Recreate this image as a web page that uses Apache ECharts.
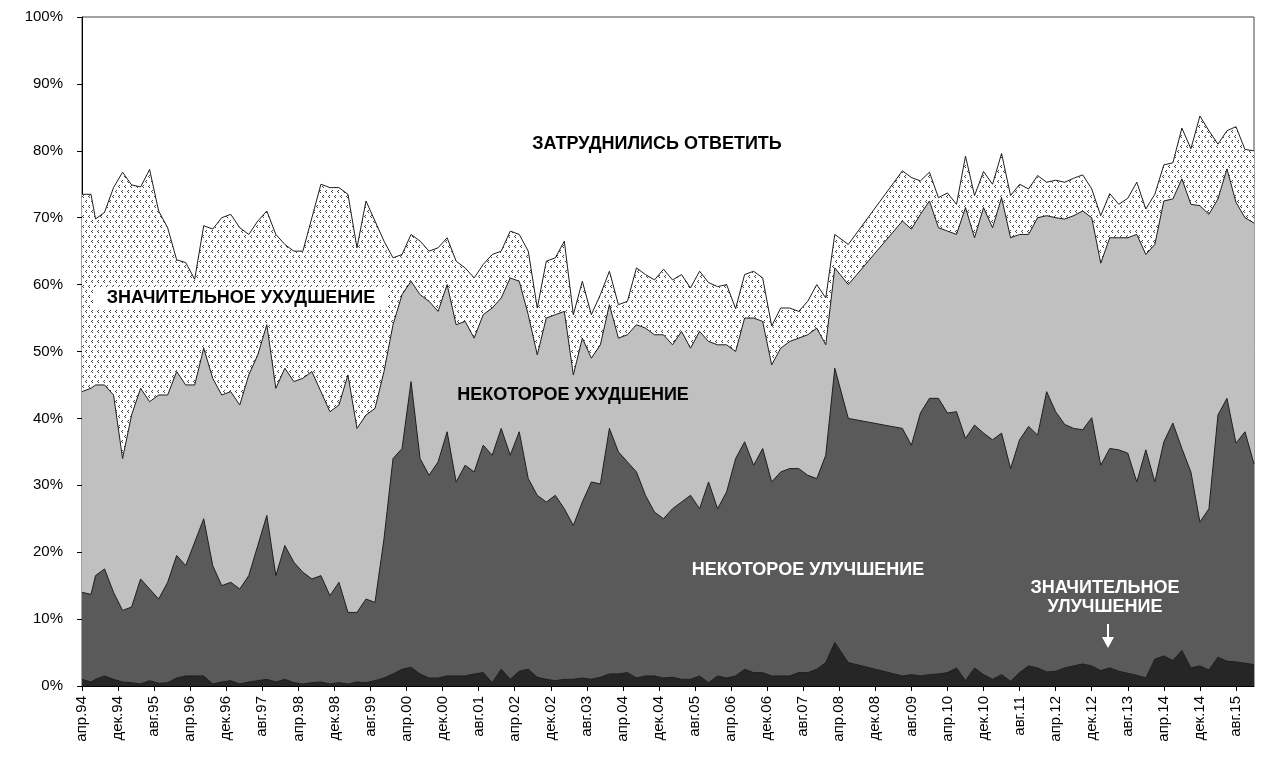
<!DOCTYPE html>
<html>
<head>
<meta charset="utf-8">
<title>Оценки изменения ситуации, 1994–2015</title>
<script src="https://cdn.jsdelivr.net/npm/echarts@6/dist/echarts.min.js"></script>
<style>
    html, body { margin: 0; padding: 0; background: #fff; }
    #chart { width: 1262px; height: 774px; }
</style>
</head>
<body>
<div id="chart"></div>
<script>
// месяц от апр.94 (0 = апр.94)
var months = [0, 2, 3, 5, 7, 9, 11, 13, 15, 17, 19, 21, 23, 25, 27, 29, 31, 33, 35, 37, 39,
    41, 43, 45, 47, 49, 51, 53, 55, 57, 59, 61, 63, 65, 67, 69, 71, 73, 75, 77, 79,
    81, 83, 85, 87, 89, 91, 93, 95, 97, 99, 101, 103, 105, 107, 109, 111, 113, 115, 117, 119,
    121, 123, 125, 127, 129, 131, 133, 135, 137, 139, 141, 143, 145, 147, 149, 151, 153, 155, 157, 159,
    161, 163, 165, 167, 170,
    182, 184, 186, 188, 190, 192, 194, 196, 198, 200, 202, 204, 206, 208, 210, 212, 214, 216, 218, 220,
    222, 224, 226, 228, 230, 232, 234, 236, 238, 240, 242, 244, 246, 248, 250, 252, 254, 256, 258, 260];

// накопленные доли, % (верхняя граница каждой области)
// до "значительного ухудшения" включительно
var upToSharpWorse = [73.5, 73.5, 69.8, 70.8, 74.5, 76.8, 74.9, 74.6, 77.2, 71, 68.5, 63.7, 63.3, 60.8, 68.8, 68.3, 70, 70.5, 68.5, 67.5, 69.5,
    71, 67.5, 66, 65, 65, 70, 75, 74.5, 74.5, 73.5, 65.5, 72.5, 69.5, 66.5, 64, 64.5, 67.5, 66.5, 65, 65.5,
    67, 63.5, 62.5, 61, 63, 64.5, 65, 68, 67.5, 65, 56.5, 63.5, 64, 66.5, 55.5, 60.5, 55.5, 58.5, 62, 57,
    57.5, 62.5, 61.5, 60.7, 62.3, 60.7, 61.5, 59.5, 62, 60.3, 59.7, 60, 56.4, 61.5, 62, 61, 53.8, 56.5, 56.5, 56,
    57.5, 60, 58, 67.5, 66,
    77, 76, 75.5, 76.8, 73, 73.7, 72, 79.2, 73.3, 76.9, 75, 79.6, 73.3, 75, 74.3, 76.3, 75.3, 75.6, 75.3, 75.9,
    76.4, 74.3, 70.3, 73.6, 72, 72.9, 75.3, 71.3, 73.5, 77.9, 78.2, 83.4, 80.3, 85.2, 83, 81, 83, 83.6, 80.2, 80];
// до "некоторого ухудшения"
var upToSomeWorse = [44, 44.5, 45, 45, 43.5, 34, 40.5, 44.5, 42.5, 43.5, 43.5, 47, 45, 45, 50.5, 46, 43.5, 44, 42, 46.5, 49.5,
    54, 44.5, 47.5, 45.5, 46, 47, 44, 41, 42, 46.5, 38.5, 40.5, 41.5, 47, 54, 58.5, 60.5, 58.5, 57.5, 56,
    60, 54, 54.5, 52, 55.5, 56.5, 58, 61, 60.5, 55.5, 49.5, 55, 55.5, 56, 46.5, 52, 49, 51, 57, 52,
    52.5, 54, 53.5, 52.5, 52.5, 51, 53, 50.5, 53, 51.5, 51, 51, 50, 55, 55, 54.5, 48, 50.5, 51.5, 52,
    52.5, 53.5, 51, 62.5, 60,
    69.5, 68.3, 70.5, 72.5, 68.5, 68, 67.5, 71.5, 67, 71.5, 68.5, 73, 67, 67.5, 67.5, 70, 70.3, 70, 69.8, 70.3,
    71, 70, 63.2, 67, 67, 67, 67.5, 64.5, 66, 72.5, 72.8, 75.8, 72, 71.8, 70.5, 72.8, 77.3, 72.3, 70, 69.2];
// до "некоторого улучшения"
var upToSomeBetter = [14, 13.7, 16.5, 17.5, 14, 11.3, 11.8, 16, 14.5, 13, 15.5, 19.5, 18, 21.5, 25, 18, 15, 15.5, 14.5, 16.5, 21,
    25.5, 16.5, 21, 18.5, 17, 16, 16.5, 13.5, 15.5, 11, 11, 13, 12.5, 22, 34, 35.5, 45.5, 34, 31.5, 33.5,
    38, 30.5, 33, 32, 36, 34.5, 38.5, 34.5, 38, 31, 28.5, 27.5, 28.5, 26.5, 24, 27.5, 30.5, 30.2, 38.5, 35,
    33.5, 32, 28.5, 26, 25, 26.5, 27.5, 28.5, 26.5, 30.5, 26.5, 29, 34, 36.5, 33, 35.5, 30.5, 32, 32.5, 32.5,
    31.5, 31, 34.5, 47.5, 40,
    38.5, 36, 40.8, 43, 43, 40.8, 41, 37, 39, 37.8, 36.8, 37.8, 32.5, 36.8, 38.8, 37.5, 44, 41, 39.1, 38.5,
    38.3, 40.1, 33, 35.5, 35.3, 34.8, 30.5, 35.3, 30.5, 36.5, 39.3, 35.5, 32, 24.5, 26.5, 40.5, 43, 36.3, 38, 33.2];
// "значительное улучшение"
var sharpBetter = [1, 0.6, 1, 1.5, 1, 0.6, 0.5, 0.3, 0.8, 0.4, 0.5, 1.2, 1.5, 1.5, 1.5, 0.3, 0.6, 0.8, 0.3, 0.6, 0.8,
    1, 0.6, 1, 0.5, 0.3, 0.5, 0.6, 0.3, 0.5, 0.3, 0.6, 0.5, 0.8, 1.2, 1.8, 2.5, 2.8, 1.8, 1.2, 1.2,
    1.5, 1.5, 1.5, 1.8, 2, 0.5, 2.5, 1, 2.2, 2.5, 1.3, 1, 0.8, 1, 1, 1.2, 1, 1.3, 1.8, 1.8,
    2, 1.2, 1.5, 1.5, 1.2, 1.3, 1, 1, 1.5, 0.5, 1.5, 1.2, 1.5, 2.5, 2, 2, 1.5, 1.5, 1.5, 2,
    2, 2.5, 3.5, 6.5, 3.5,
    1.5, 1.7, 1.5, 1.7, 1.8, 2, 2.7, 0.8, 2.7, 1.7, 1, 1.7, 0.7, 2, 3, 2.7, 2.1, 2.2, 2.7, 3,
    3.3, 3, 2.3, 2.7, 2.2, 1.9, 1.6, 1.2, 4, 4.5, 3.8, 5.3, 2.7, 3, 2.4, 4.3, 3.7, 3.6, 3.4, 3.2];

var xLabels = ['апр.94', 'дек.94', 'авг.95', 'апр.96', 'дек.96', 'авг.97', 'апр.98', 'дек.98', 'авг.99',
    'апр.00', 'дек.00', 'авг.01', 'апр.02', 'дек.02', 'авг.03', 'апр.04', 'дек.04', 'авг.05', 'апр.06',
    'дек.06', 'авг.07', 'апр.08', 'дек.08', 'авг.09', 'апр.10', 'дек.10', 'авг.11', 'апр.12', 'дек.12',
    'авг.13', 'апр.14', 'дек.14', 'авг.15'];

function pairs(arr) {
    return months.map(function (m, i) { return [m, arr[i]]; });
}

// точечная заливка для "значительного ухудшения"
function dotPattern() {
    var c = document.createElement('canvas');
    c.width = 6; c.height = 10;
    var ctx = c.getContext('2d');
    ctx.fillStyle = '#fff';
    ctx.fillRect(0, 0, 6, 10);
    ctx.fillStyle = '#444';
    ctx.fillRect(2, 0, 1, 1); ctx.fillRect(1, 1, 1, 1); ctx.fillRect(2, 2, 1, 1);
    ctx.fillRect(5, 5, 1, 1); ctx.fillRect(4, 6, 1, 1); ctx.fillRect(5, 7, 1, 1);
    return c;
}

var font = '"Liberation Sans", Arial, sans-serif';
var chart = echarts.init(document.getElementById('chart'));

function area(name, data, fill) {
    return {
        name: name,
        type: 'line',
        data: pairs(data),
        symbol: 'none',
        lineStyle: { color: '#1e1e1e', width: 1 },
        areaStyle: { color: fill, opacity: 1 },
        silent: true
    };
}

function label(text, x, y, color) {
    return {
        type: 'text', x: x, y: y, z: 100,
        style: { text: text, fill: color, font: 'bold 18px ' + font, textAlign: 'center', textVerticalAlign: 'middle' }
    };
}

var option = {
    animation: false,
    backgroundColor: '#fff',
    grid: { left: 82, right: 8, top: 17, bottom: 88, show: true, borderColor: '#444', borderWidth: 1 },
    xAxis: {
        type: 'value',
        min: 0, max: 260, interval: 8,
        axisLine: { lineStyle: { color: '#000' } },
        axisTick: { length: 5, lineStyle: { color: '#000' } },
        axisLabel: {
            rotate: 90, margin: 10, fontSize: 15, color: '#000', fontFamily: font,
            showMaxLabel: false,
            formatter: function (v) { return xLabels[v / 8] || ''; }
        },
        splitLine: { show: false }
    },
    yAxis: {
        type: 'value',
        min: 0, max: 100, interval: 10,
        axisLine: { show: true, lineStyle: { color: '#000' } },
        axisTick: { show: true, length: 5, lineStyle: { color: '#000' } },
        axisLabel: { margin: 19, fontSize: 15, color: '#000', fontFamily: font, formatter: '{value}%' },
        splitLine: { show: false }
    },
    series: [
        area('значительное ухудшение', upToSharpWorse, { image: dotPattern(), repeat: 'repeat' }),
        area('некоторое ухудшение', upToSomeWorse, '#c0c0c0'),
        area('некоторое улучшение', upToSomeBetter, '#5a5a5a'),
        area('значительное улучшение', sharpBetter, '#262626')
    ],
    graphic: [
        label('ЗАТРУДНИЛИСЬ ОТВЕТИТЬ', 657, 144, '#000'),
        { type: 'rect', shape: { x: 94, y: 287, width: 294, height: 23 }, style: { fill: '#fff' }, z: 99 },
        label('ЗНАЧИТЕЛЬНОЕ УХУДШЕНИЕ', 241, 298, '#000'),
        label('НЕКОТОРОЕ УХУДШЕНИЕ', 573, 395, '#000'),
        label('НЕКОТОРОЕ УЛУЧШЕНИЕ', 808, 570, '#fff'),
        label('ЗНАЧИТЕЛЬНОЕ', 1105, 588, '#fff'),
        label('УЛУЧШЕНИЕ', 1105, 607, '#fff'),
        { type: 'line', shape: { x1: 1108, y1: 624, x2: 1108, y2: 640 }, style: { stroke: '#fff', lineWidth: 2 }, z: 100 },
        { type: 'polygon', shape: { points: [[1102, 637], [1114, 637], [1108, 648]] }, style: { fill: '#fff' }, z: 100 }
    ]
};
chart.setOption(option);
</script>
</body>
</html>
